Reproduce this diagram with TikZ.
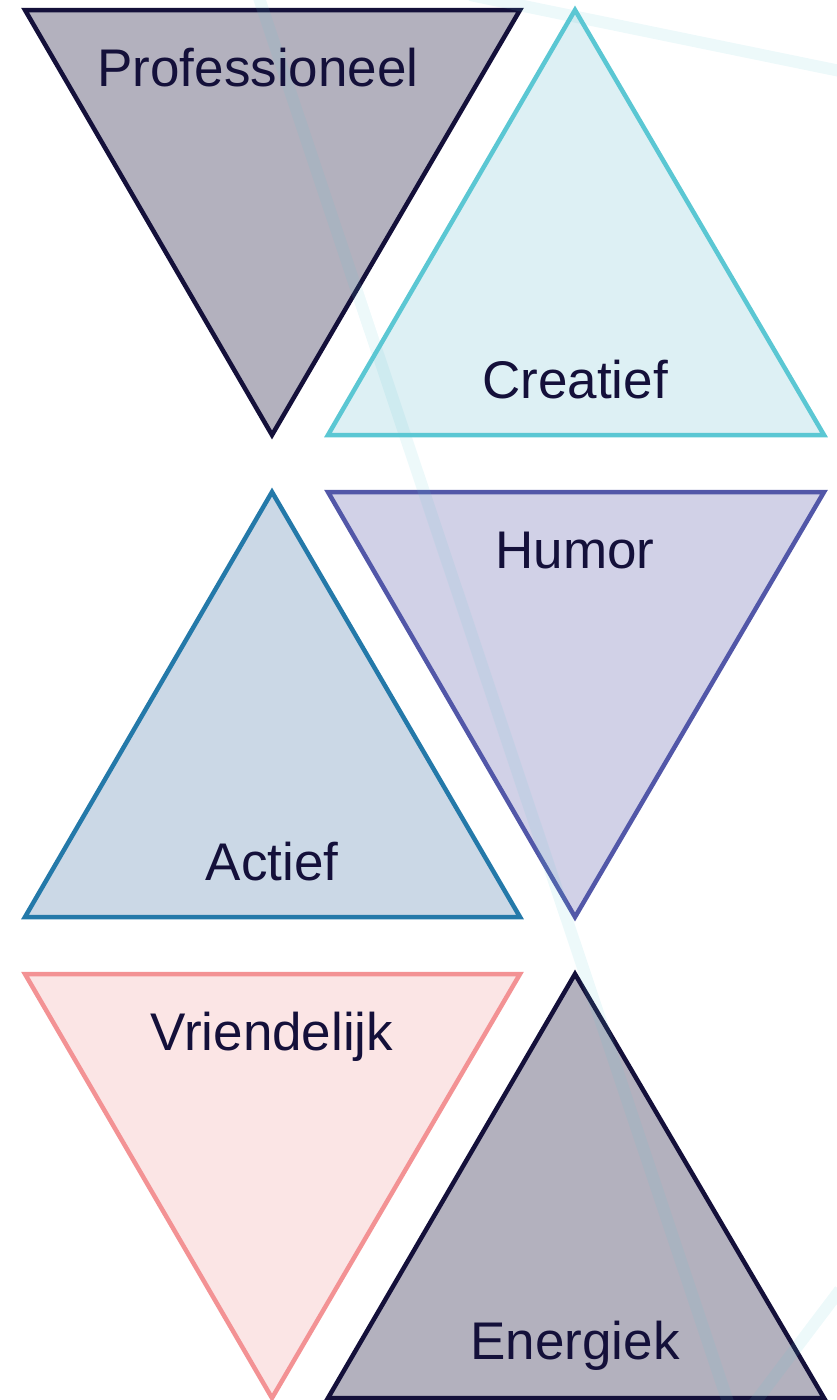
\documentclass[tikz,border=0pt]{standalone}
\usepackage{fontspec}
\setmainfont{Liberation Sans}
\definecolor{navy}{HTML}{14103A}
\definecolor{navyfill}{HTML}{B3B1BE}
\definecolor{cyanline}{HTML}{5BC7D3}
\definecolor{cyanfill}{HTML}{DDF0F4}
\definecolor{violetline}{HTML}{5257A8}
\definecolor{violetfill}{HTML}{D1D1E7}
\definecolor{blueline}{HTML}{2479A9}
\definecolor{bluefill}{HTML}{CBD8E6}
\definecolor{pinkline}{HTML}{F39294}
\definecolor{pinkfill}{HTML}{FBE5E5}
\begin{document}
\begin{tikzpicture}[x=1pt,y=-1pt,line width=4.5pt,line join=miter,
  label/.style={text=navy,font=\fontsize{53}{60}\selectfont,inner sep=0pt},
  streak/.style={draw=cyanline,draw opacity=0.11,line width=12pt}]
\useasboundingbox (0,0) rectangle (836,1400);

% triangles
\draw[draw=navy,fill=navyfill] (25,10) -- (520,10) -- (272,435) -- cycle;
\draw[draw=cyanline,fill=cyanfill] (575,10) -- (824,435) -- (328,435) -- cycle;
\draw[draw=violetline,fill=violetfill] (328,492) -- (824,492) -- (575,917) -- cycle;
\draw[draw=blueline,fill=bluefill] (272,492) -- (520,917) -- (25,917) -- cycle;
\draw[draw=pinkline,fill=pinkfill] (25,974) -- (520,974) -- (272,1398) -- cycle;
\draw[draw=navy,fill=navyfill] (575,974) -- (824,1398) -- (328,1398) -- cycle;

% faint streaks
\draw[streak] (258,-5) -- (729,1405);
\draw[streak] (470,-5) -- (840,71);
\draw[streak] (753,1405) -- (840,1290);

\node[label](professioneel) at(258,68){Professioneel};
\node[label](creatief) at(575,380){Creatief};
\node[label](humor) at(575,551){Humor};
\node[label](actief) at(272,862){Actief};
\node[label](vriendelijk) at(272,1037){Vriendelijk};
\node[label](energiek) at(575,1346){Energiek};

\end{tikzpicture}
\end{document}
